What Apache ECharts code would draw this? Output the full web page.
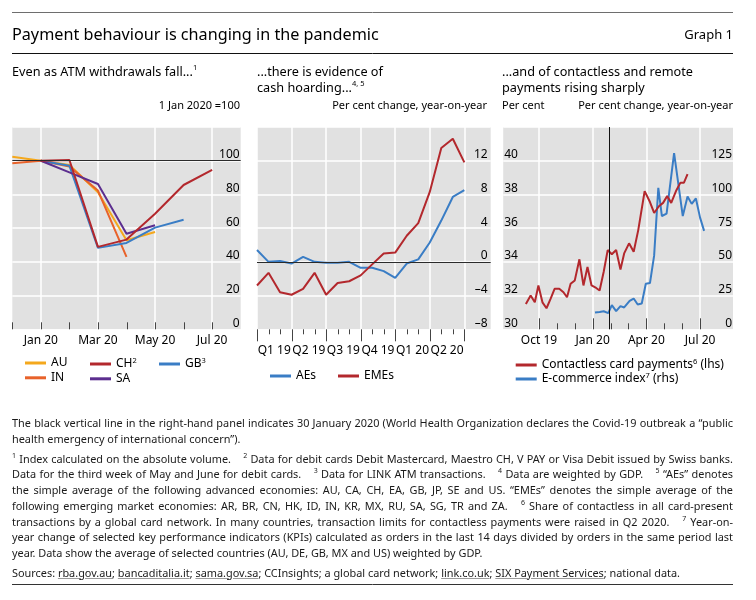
<!DOCTYPE html>
<html><head><meta charset="utf-8">
<script src="https://cdn.jsdelivr.net/npm/echarts@6/dist/echarts.min.js"></script>
<style>
html,body{margin:0;padding:0;background:#fff;}
#chart{position:absolute;left:0;top:0;width:756px;height:600px;}
#notes{position:absolute;left:12px;top:415px;width:721px;font-family:"Noto Sans",sans-serif;font-size:10.9px;line-height:15.75px;color:#1a1a1a;}
#notes div{white-space:nowrap;}
#notes sup{font-size:7px;vertical-align:top;line-height:10px;position:relative;top:0px;}
#notes .g{display:inline-block;width:9px;}
#notes .u{text-decoration:underline;text-decoration-color:#9a9a9a;}
</style>
</head><body>
<div id="chart"></div>
<div id="notes">
<div class="j">The black vertical line in the right-hand panel indicates 30 January 2020 (World Health Organization declares the Covid-19 outbreak a “public</div>
<div>health emergency of international concern”).</div>
<div class="j" style="margin-top:4px"><sup>1</sup> Index calculated on the absolute volume.<span class="g"></span> <sup>2</sup> Data for debit cards Debit Mastercard, Maestro CH, V PAY or Visa Debit issued by Swiss banks.</div>
<div class="j">Data for the third week of May and June for debit cards.<span class="g"></span> <sup>3</sup> Data for LINK ATM transactions.<span class="g"></span> <sup>4</sup> Data are weighted by GDP.<span class="g"></span> <sup>5</sup> “AEs” denotes</div>
<div class="j">the simple average of the following advanced economies: AU, CA, CH, EA, GB, JP, SE and US. “EMEs” denotes the simple average of the</div>
<div class="j">following emerging market economies: AR, BR, CN, HK, ID, IN, KR, MX, RU, SA, SG, TR and ZA.<span class="g"></span> <sup>6</sup> Share of contactless in all card-present</div>
<div class="j">transactions by a global card network. In many countries, transaction limits for contactless payments were raised in Q2 2020.<span class="g"></span> <sup>7</sup> Year-on-</div>
<div class="j">year change of selected key performance indicators (KPIs) calculated as orders in the last 14 days divided by orders in the same period last</div>
<div>year. Data show the average of selected countries (AU, DE, GB, MX and US) weighted by GDP.</div>
<div style="margin-top:4px">Sources: <span class="u">rba.gov.au</span>; <span class="u">bancaditalia.it</span>; <span class="u">sama.gov.sa</span>; CCInsights; a global card network; <span class="u">link.co.uk</span>; <span class="u">SIX Payment Services</span>; national data.</div>
</div>
<script>
// ---------------- DATA ----------------
// Panel 1: ATM withdrawals, 1 Jan 2020 = 100 (monthly)
const p1Months = ['Dec 19','Jan 20','Feb 20','Mar 20','Apr 20','May 20','Jun 20','Jul 20'];
const p1LabelMonths = ['Jan 20','Mar 20','May 20','Jul 20'];
const atmAU = [102.4, 100, 97.5, 81.3, 52.8, 57.7, null, null];
const atmIN = [98.5, 100, 96.5, 82.3, 43.0, null, null, null];
const atmCH = [null, 100, 100.4, 48.9, 53.2, 68.5, 85.6, 94.5];
const atmGB = [null, 100, 97.0, 48.3, 51.2, 60.3, 65.0, null];
const atmSA = [null, 100, 93.1, 86.2, 56.7, 61.7, null, null];

// Panel 2: cash in circulation, % yoy (monthly Jan 2019 - Jul 2020)
const p2Months = ['Jan 19','Feb 19','Mar 19','Apr 19','May 19','Jun 19','Jul 19','Aug 19','Sep 19','Oct 19','Nov 19','Dec 19','Jan 20','Feb 20','Mar 20','Apr 20','May 20','Jun 20','Jul 20'];
const p2Quarters = ['Q1 19','Q2 19','Q3 19','Q4 19','Q1 20','Q2 20'];
const cashAEs  = [1.4, 0.0, 0.1, -0.2, 0.6, 0.0, -0.1, -0.1, 0.0, -0.7, -0.7, -1.1, -1.9, -0.2, 0.3, 2.3, 4.9, 7.7, 8.5];
const cashEMEs = [-2.8, -1.3, -3.6, -3.9, -3.2, -1.3, -3.9, -2.5, -2.3, -1.6, -0.3, 1.0, 1.1, 3.1, 4.6, 8.3, 13.5, 14.6, 11.8];

// Panel 3: contactless share (lhs, per cent) and e-commerce index (rhs, % yoy)
const contactDates = ['2019-09-09','2019-09-17','2019-09-24','2019-09-30','2019-10-07','2019-10-14','2019-10-21','2019-10-28','2019-11-05','2019-11-12','2019-11-18','2019-11-24','2019-12-01','2019-12-09','2019-12-16','2019-12-23','2019-12-30','2020-01-07','2020-01-13','2020-01-20','2020-01-27','2020-02-03','2020-02-10','2020-02-17','2020-02-23','2020-03-02','2020-03-10','2020-03-18','2020-03-29','2020-04-07','2020-04-14','2020-04-22','2020-04-29','2020-05-06','2020-05-13','2020-05-22','2020-05-29','2020-06-04','2020-06-10'];
const contactVals = [31.5, 32.0, 31.6, 32.6, 31.6, 31.25, 31.8, 32.4, 32.4, 32.2, 31.9, 32.7, 32.9, 34.15, 32.6, 33.7, 32.6, 32.45, 32.3, 33.4, 34.7, 34.45, 34.7, 33.55, 34.5, 35.1, 34.6, 35.9, 38.2, 37.55, 36.9, 37.3, 37.5, 37.9, 37.5, 38.25, 38.7, 38.7, 39.2];
const ecomDates = ['2020-01-05','2020-01-13','2020-01-20','2020-01-28','2020-02-03','2020-02-10','2020-02-17','2020-02-23','2020-03-03','2020-03-10','2020-03-17','2020-03-24','2020-03-31','2020-04-07','2020-04-14','2020-04-21','2020-04-27','2020-05-05','2020-05-18','2020-06-02','2020-06-10','2020-06-17','2020-06-24','2020-07-01','2020-07-08'];
const ecomVals = [12.5, 12.9, 13.4, 12.0, 17.9, 13.5, 17.2, 16.2, 21.1, 22.8, 18.4, 19.1, 33.8, 34.3, 54.6, 104.9, 84.0, 85.8, 130.6, 84.0, 98.5, 93.0, 97.0, 82.8, 73.0];
const p3Months = ['Aug 19','Sep 19','Oct 19','Nov 19','Dec 19','Jan 20','Feb 20','Mar 20','Apr 20','May 20','Jun 20','Jul 20'];
const p3LabelMonths = ['Oct 19','Jan 20','Apr 20','Jul 20'];
const whoDate = '2020-01-30';

// ---------------- HELPERS ----------------
const FONT = '"Noto Sans", sans-serif';
const COL = {au:'#f4a81d', in:'#e8622a', ch:'#b3282d', gb:'#3a7dc5', sa:'#5c2e8f'};
const BG = '#e1e1e1';
const TICK = '#444444';

function monthly(arr){ return arr.map((v,i)=>[i,v]).filter(p=>p[1]!==null); }
// month position counted from 1 Aug 2019
function monthPos(s){
  const [y,m,d] = s.split('-').map(Number);
  const days = new Date(y, m, 0).getDate();
  return (y-2019)*12 + (m-8) + (d-1)/days;
}
function dated(dates, vals){ return dates.map((d,i)=>[monthPos(d), vals[i]]); }
function posOf(list, all){ return list.map(l=>all.indexOf(l)); }
const idx = arr => arr.map((m,i)=>i);

const p1LabelPos = posOf(p1LabelMonths, p1Months);
const p1TickPos = idx(p1Months);
const p2LabelPos = p2Quarters.map((q,i)=>i*3+1.5);
const p2Bound = idx(p2Months).filter(i=>i%3===0);
const p2Minor = idx(p2Months).filter(i=>i%3!==0);
const p3LabelPos = posOf(p3LabelMonths, p3Months);
const p3Minor = idx(p3Months).filter(i=>i>p3LabelPos[0] && i<p3LabelPos[p3LabelPos.length-1] && p3LabelPos.indexOf(i)<0);

const rich = {
  t:{fontSize:12, fontFamily:FONT, color:'#000', lineHeight:14},
  s:{fontSize:7.5, fontFamily:FONT, color:'#000', verticalAlign:'top', lineHeight:8}
};
const titleRich = {
  t:{fontSize:12.7, fontFamily:FONT, color:'#000', lineHeight:16},
  s:{fontSize:7.5, fontFamily:FONT, color:'#000', verticalAlign:'top', lineHeight:9}
};
const legendLabels = {
  'AU':'{t|AU}', 'IN':'{t|IN}', 'CH':'{t|CH}{s|2}', 'GB':'{t|GB}{s|3}', 'SA':'{t|SA}',
  'AEs':'{t|AEs}', 'EMEs':'{t|EMEs}',
  'Contactless card payments (lhs)':'{t|Contactless card payments}{s|6}{t| (lhs)}',
  'E-commerce index (rhs)':'{t|E-commerce index}{s|7}{t| (rhs)}'
};
function legend(left, top, names, gap){
  return {left:left, top:top, orient:'vertical', data:names, padding:0,
    itemWidth:21, itemHeight:3, itemGap:gap, icon:'rect', selectedMode:false,
    formatter:n=>legendLabels[n], textStyle:{fontSize:12, fontFamily:FONT, color:'#000', rich:rich}};
}
function lineSeries(name, color, xi, yi, data, extra){
  return Object.assign({type:'line', name:name, xAxisIndex:xi, yAxisIndex:yi, data:data,
    showSymbol:false, symbol:'none', lineStyle:{color:color, width:2}, itemStyle:{color:color},
    emphasis:{disabled:true}, z:3}, extra||{});
}
function hline(v){
  return {silent:true, symbol:['none','none'], label:{show:false}, animation:false,
    lineStyle:{color:'#2b2b2b', width:1, type:'solid'}, emphasis:{disabled:true}, data:[{yAxis:v}]};
}
const lbl = {fontSize:12, fontFamily:FONT, color:'#000'};
const white = {show:true, lineStyle:{color:'#fff', width:1.5}};
const noSplit = {show:false};

// plotting grids
const G = [
  {left:12.3, top:127, width:228.4, height:202.3},
  {left:257, top:127, width:233.7, height:202.3},
  {left:503.2, top:127, width:229.8, height:202.3}
];
const BOTTOM = G[0].top + G[0].height;
const p1Max = p1Months.length;          // axis runs to the month after the last
const p2Max = 20.29;
const p3Max = 12.84;
const MAX = [p1Max, p2Max, p3Max];
const grids = G.map(g=>Object.assign({}, g, {show:true, backgroundColor:BG, borderWidth:0}));

function valX(grid, max, labelVals, fmt, margin, splitVals){
  return {type:'value', gridIndex:grid, position:'bottom', min:0, max:max,
    axisLine:{show:false, onZero:false},
    axisTick:{show:false, customValues:splitVals},
    axisLabel: Object.assign({show:true, customValues:labelVals, margin:margin, formatter:fmt}, lbl),
    splitLine: white};
}
const xAxes = [
  valX(0, p1Max, p1LabelPos, v=>p1Months[v], 5, p1LabelPos),
  valX(1, p2Max, p2LabelPos, v=>p2Quarters[Math.round((v-1.5)/3)], 15, p2Bound),
  valX(2, p3Max, p3LabelPos, v=>p3Months[v], 5, p3LabelPos)
];

function yAx(grid, pos, min, max, interval, margin, split, fmt){
  return {type:'value', gridIndex:grid, position:pos, min:min, max:max, interval:interval,
    axisLine:{show:false, onZero:false}, axisTick:{show:false},
    axisLabel:Object.assign({inside:true, margin:margin, verticalAlign:'bottom',
      formatter:v=> v===max ? '' : fmt(v)}, lbl),
    splitLine: split ? white : noSplit};
}
const yAxes = [
  yAx(0, 'right', 0, 120, 20, 1, true, v=>String(v)),
  yAx(1, 'right', -8, 16, 4, 3, true, v=>String(v).replace('-','\u2013')),
  yAx(2, 'left', 30, 42, 2, 1, true, v=>String(v)),
  yAx(2, 'right', 0, 150, 25, 1, false, v=>String(v))
];

const series = [
  lineSeries('AU', COL.au, 0, 0, monthly(atmAU), {markLine:hline(100), z:2}),
  lineSeries('IN', COL.in, 0, 0, monthly(atmIN)),
  lineSeries('GB', COL.gb, 0, 0, monthly(atmGB)),
  lineSeries('SA', COL.sa, 0, 0, monthly(atmSA)),
  lineSeries('CH', COL.ch, 0, 0, monthly(atmCH)),
  lineSeries('AEs', COL.gb, 1, 1, monthly(cashAEs), {markLine:hline(0), z:2}),
  lineSeries('EMEs', COL.ch, 1, 1, monthly(cashEMEs)),
  lineSeries('E-commerce index (rhs)', COL.gb, 2, 3, dated(ecomDates, ecomVals)),
  lineSeries('Contactless card payments (lhs)', COL.ch, 2, 2, dated(contactDates, contactVals), {
    markLine:{silent:true, symbol:['none','none'], label:{show:false}, animation:false,
      lineStyle:{color:'#111', width:1, type:'solid'}, emphasis:{disabled:true}, data:[{xAxis:monthPos(whoDate)}]}})
];

const small = {fontSize:11, fontWeight:'normal', fontFamily:FONT, color:'#000', lineHeight:14};
const titles = [
  {text:'Payment behaviour is changing in the pandemic', left:12, top:25, padding:0,
    textStyle:{fontSize:16.2, fontWeight:'normal', fontFamily:FONT, color:'#000', lineHeight:20}},
  {text:'Graph 1', right:23, top:27, padding:0,
    textStyle:{fontSize:13, fontWeight:'normal', fontFamily:FONT, color:'#000', lineHeight:16}},
  {text:'{t|Even as ATM withdrawals fall...}{s|1}', left:12, top:64, padding:0,
    textStyle:{fontWeight:'normal', rich:titleRich}},
  {text:'{t|...there is evidence of}\n{t|cash hoarding...}{s|4, 5}', left:257, top:64, padding:0,
    textStyle:{fontWeight:'normal', rich:titleRich}},
  {text:'{t|...and of contactless and remote}\n{t|payments rising sharply}', left:502, top:64, padding:0,
    textStyle:{fontWeight:'normal', rich:titleRich}},
  {text:'1 Jan 2020 =100', right:516, top:98.5, padding:0, textStyle:small},
  {text:'Per cent change, year-on-year', right:269, top:98.5, padding:0, textStyle:small},
  {text:'Per cent', left:502, top:98.5, padding:0, textStyle:small},
  {text:'Per cent change, year-on-year', right:23, top:98.5, padding:0, textStyle:small}
];

const rules = [
  {type:'line', shape:{x1:12, y1:12.5, x2:733, y2:12.5}, style:{stroke:'#6e6e6e', lineWidth:1}, silent:true},
  {type:'line', shape:{x1:12, y1:53.5, x2:733, y2:53.5}, style:{stroke:'#111', lineWidth:1}, silent:true},
  {type:'line', shape:{x1:12, y1:584.5, x2:733, y2:584.5}, style:{stroke:'#333', lineWidth:1}, silent:true}
];

// month tick marks along each panel's linear month axis
// [panel, tick values, length, inside]
const tickSets = [
  [0, p1TickPos, 7, true],
  [1, p2Bound, 12, false],
  [1, p2Minor, 5, false],
  [2, p3LabelPos, 11, true],
  [2, p3Minor, 6, true]
];
const ticks = [];
tickSets.forEach(t=>{
  const g = G[t[0]], max = MAX[t[0]];
  t[1].forEach(v=>{
    const x = Math.round(g.left + v / max * g.width) + 0.5;
    const y2 = t[3] ? BOTTOM - t[2] : BOTTOM + t[2];
    ticks.push({type:'line', silent:true, z:100,
      shape:{x1:x, y1:BOTTOM, x2:x, y2:y2},
      style:{stroke:TICK, lineWidth:1}});
  });
});

const chart = echarts.init(document.getElementById('chart'), null, {renderer:'canvas'});
chart.setOption({
  animation:false,
  backgroundColor:'#fff',
  title:titles,
  grid:grids,
  xAxis:xAxes,
  yAxis:yAxes,
  legend:[
    legend(25, 357, ['AU','IN'], 2.8),
    legend(90, 357, ['CH','SA'], 2.8),
    legend(159, 357, ['GB'], 2.8),
    legend(270, 370, ['AEs'], 2),
    legend(338, 370, ['EMEs'], 2),
    legend(515.7, 358, ['Contactless card payments (lhs)','E-commerce index (rhs)'], 1)
  ],
  tooltip:{show:false},
  graphic:rules.concat(ticks),
  series:series
});

// justify footnote lines to the full text width (layout only)
document.querySelectorAll('#notes .j').forEach(el=>{
  el.style.display='inline-block';
  const w = el.getBoundingClientRect().width;
  el.style.display='block';
  const spaces = (el.textContent.match(/ /g)||[]).length;
  if (spaces) el.style.wordSpacing = ((721 - w)/spaces) + 'px';
});
</script>
</body></html>
